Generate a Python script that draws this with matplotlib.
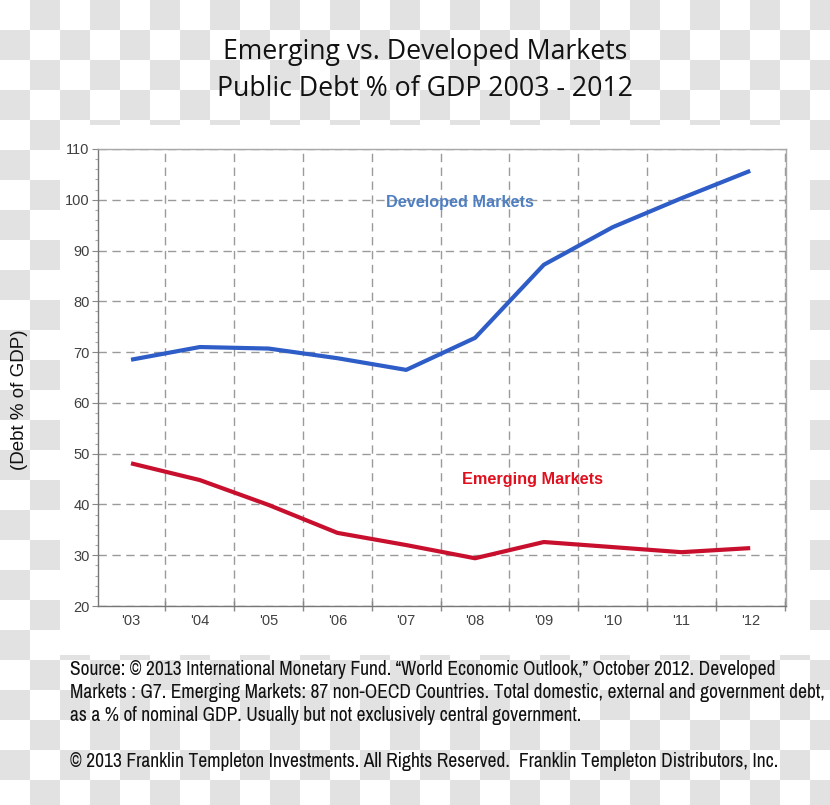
import numpy as np
import matplotlib
matplotlib.use("Agg")
import matplotlib.pyplot as plt
from matplotlib.ticker import MultipleLocator, FixedLocator
from matplotlib.patches import Rectangle
from matplotlib import font_manager as fm

years = [2003, 2004, 2005, 2006, 2007, 2008, 2009, 2010, 2011, 2012]
year_labels = ["'03", "'04", "'05", "'06", "'07", "'08", "'09", "'10", "'11", "'12"]
developed = [68.5, 71.0, 70.7, 68.8, 66.5, 72.8, 87.2, 94.6, 100.3, 105.7]
emerging = [48.1, 44.8, 39.9, 34.4, 32.0, 29.4, 32.6, 31.6, 30.6, 31.4]

W, H = 830, 805
fig = plt.figure(figsize=(W / 100, H / 100), dpi=100)

# checkered backdrop
yy, xx = np.mgrid[0:H, 0:W]
chk = np.where(((xx // 30) + (yy // 30)) % 2 == 1, 0.89, 1.0)
img = np.dstack([chk, chk, chk])
fig.figimage(img, xo=0, yo=0, origin='upper', zorder=0)

# white panel behind the chart
fig.patches.append(Rectangle((60 / W, 1 - 655 / H), 750 / W, 530 / H,
                             transform=fig.transFigure, facecolor='white',
                             edgecolor='none', zorder=0.5))

ax = fig.add_axes([98 / W, 1 - 606 / H, 688 / W, 457 / H])
ax.set_facecolor('white')
ax.set_zorder(1)

ax.plot(years, developed, color='#2E5DC8', lw=3.0, solid_capstyle='butt', zorder=3)
ax.plot(years, emerging, color='#C8102E', lw=3.0, solid_capstyle='butt', zorder=3)

ax.set_xlim(2002.52, 2012.52)
ax.set_ylim(20, 110)

ax.set_xticks(years)
ax.set_xticklabels(year_labels, family='Liberation Sans')
ax.set_yticks(range(20, 111, 10))
ax.set_yticklabels([str(v) for v in range(20, 111, 10)], family='Liberation Sans')
ax.xaxis.set_minor_locator(FixedLocator([y + 0.5 for y in range(2002, 2013)]))
ax.yaxis.set_minor_locator(MultipleLocator(2))

ax.tick_params(axis='x', which='major', length=0, pad=6, labelsize=10.5, labelcolor='#404040')
ax.tick_params(axis='x', which='minor', length=7, direction='inout', color='#888888', width=1)
ax.tick_params(axis='y', which='major', length=4, direction='out', color='#888888', labelsize=10.5, labelcolor='#404040', pad=2)
ax.tick_params(axis='y', which='minor', length=2, direction='out', color='#aaaaaa', width=0.8)

ax.grid(axis='y', which='major', linestyle=(0, (6, 4)), color='#9a9a9a', lw=1.0)
ax.grid(axis='x', which='minor', linestyle=(0, (6, 4)), color='#9a9a9a', lw=1.0)
ax.set_axisbelow(True)

for s in ax.spines.values():
    s.set_color('#a8a8a8')
    s.set_linewidth(1.0)
ax.spines['left'].set_color('#777777')
ax.spines['bottom'].set_color('#777777')

ax.text(2007.78, 99.5, 'Developed Markets', color='#4F7FC0', fontsize=11.7,
        fontweight='bold', ha='center', va='center', family='Liberation Sans')
ax.text(2008.84, 45.0, 'Emerging Markets', color='#E0101E', fontsize=11.7,
        fontweight='bold', ha='center', va='center', family='Liberation Sans')

fig.text(20 / W, 1 - 400 / H, '(Debt % of GDP)', rotation=90, ha='center', va='center',
         fontsize=13.5, color='#111111', family='Liberation Sans')

fig.text(425 / W, 1 - 52 / H, 'Emerging vs. Developed Markets', ha='center', va='center',
         fontsize=19.2, color='#111111', family='Open Sans')
fig.text(425 / W, 1 - 89 / H, 'Public Debt % of GDP 2003 - 2012', ha='center', va='center',
         fontsize=19.2, color='#111111', family='Open Sans')

# choose a regular-weight narrow / condensed face for the footnote if available
def _is_regular(f):
    w = f.weight
    try:
        w = int(w)
    except (TypeError, ValueError):
        w = {'normal': 400, 'regular': 400, 'book': 400}.get(str(w).lower(), 700)
    return w <= 450 and f.style == 'normal'

cands = [f for f in fm.fontManager.ttflist if _is_regular(f)]
narrow = [f for f in cands if 'Narrow' in f.name]
condensed = [f for f in cands if 'Condensed' in f.name or f.stretch in ('condensed', 'semi-condensed')]
if narrow:
    foot_fp = fm.FontProperties(fname=narrow[0].fname)
elif condensed:
    foot_fp = fm.FontProperties(fname=condensed[0].fname)
else:
    foot_fp = fm.FontProperties(family='Liberation Sans')
foot_fp.set_size(12)

lines = [
    'Source: \u00a9 2013 International Monetary Fund. \u201cWorld Economic Outlook,\u201d October 2012. Developed',
    'Markets : G7. Emerging Markets: 87 non-OECD Countries. Total domestic, external and government debt,',
    'as a % of nominal GDP. Usually but not exclusively central government.',
]
texts = []
for i, t in enumerate(lines):
    texts.append(fig.text(70 / W, 1 - (669 + 23 * i) / H, t, ha='left', va='center',
                          color='#111111', fontproperties=foot_fp))
texts.append(fig.text(70 / W, 1 - 761 / H,
                      '\u00a9 2013 Franklin Templeton Investments. All Rights Reserved.  Franklin Templeton Distributors, Inc.',
                      ha='left', va='center', color='#111111', fontproperties=foot_fp))

# fit the longest footnote line to the width it takes in the reference
fig.canvas.draw()
r = fig.canvas.get_renderer()
wpx = texts[1].get_window_extent(r).width
new_size = min(14.5, 12 * 754.0 / wpx)
for t in texts:
    t.set_fontsize(new_size)

fig.savefig('out.png', dpi=100)
